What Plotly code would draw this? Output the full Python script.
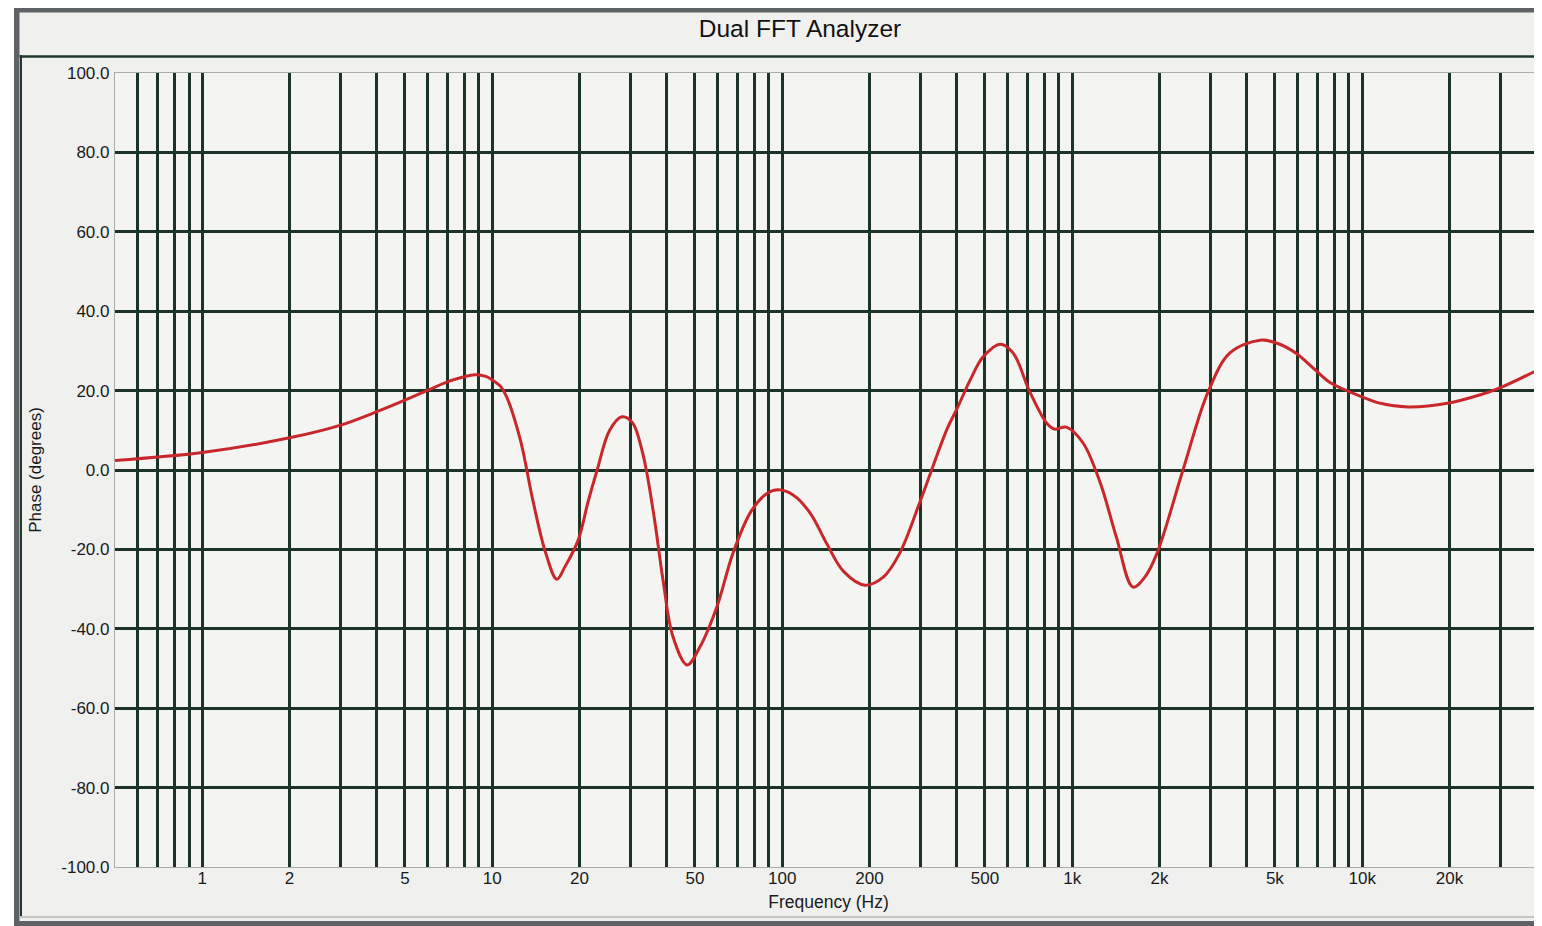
import math
import plotly.graph_objects as go

# ---------------- data ----------------
freq_hz = [0.5, 1.0, 2.0, 3.0, 4.0, 5.0, 6.0, 7.0, 8.0, 8.7, 9.5, 10.0, 10.7, 11.2,
           12.5, 13.8, 15.3, 16.7, 17.8, 19.8, 21.4, 23.0, 25.4, 28.0, 30.4, 33.0,
           36.0, 38.8, 42.0, 47.0, 52.0, 59.5, 67.6, 77.8, 88.6, 97.0, 109.0, 125.0,
           142.0, 163.0, 193.0, 223.0, 254.0, 300.0, 370.0, 401.0, 445.0, 493.0,
           565.0, 625.0, 715.0, 817.0, 870.0, 955.0, 1090.0, 1250.0, 1420.0, 1620.0,
           1780.0, 1960.0, 2410.0, 2940.0, 3500.0, 4450.0, 5060.0, 5900.0, 6890.0,
           7800.0, 10000.0, 11400.0, 14400.0, 19900.0, 25400.0, 30300.0, 41600.0]
phase_deg = [2.4, 4.4, 8.1, 11.3, 14.7, 17.6, 20.1, 22.2, 23.5, 24.0, 23.6, 22.7, 21.0, 18.5,
             7.6, -7.6, -21.0, -27.5, -24.4, -17.6, -8.0, 0.0, 10.0, 13.4, 12.0, 4.3,
             -10.9, -27.7, -42.0, -49.1, -44.6, -34.5, -21.0, -10.6, -5.9, -5.0, -6.3, -10.9,
             -18.4, -25.6, -29.0, -27.0, -21.0, -7.6, 10.3, 15.5, 22.7, 28.5,
             31.7, 29.5, 19.6, 11.8, 10.3, 10.8, 6.8, -3.3, -16.9, -29.5,
             -27.0, -21.0, 0.0, 19.6, 29.5, 32.7, 32.0, 29.5, 25.2,
             21.9, 18.4, 16.9, 15.9, 16.9, 18.9, 20.9, 25.7]

x_tick_vals = [1, 2, 5, 10, 20, 50, 100, 200, 500, 1000, 2000, 5000, 10000, 20000]
x_tick_text = ["1", "2", "5", "10", "20", "50", "100", "200", "500", "1k", "2k", "5k", "10k", "20k"]
y_tick_vals = [-100, -80, -60, -40, -20, 0, 20, 40, 60, 80, 100]
y_tick_text = ["-100.0", "-80.0", "-60.0", "-40.0", "-20.0", "0.0", "20.0", "40.0", "60.0", "80.0", "100.0"]

x_min_hz, x_max_hz = 0.5, 41700
# ---------------------------------------

x_grid = [m * 10 ** e for e in range(-1, 5) for m in range(1, 10)]
x_grid = [v for v in x_grid if x_min_hz < v < x_max_hz]
y_grid = [v for v in y_tick_vals if -100 < v < 100]

# the page places the figure 8px in from the top-left corner of the window
OFF = 8
W, H = 1542 - OFF, 926 - OFF
L, R, T = 115 - OFF, 0, 73 - OFF
B = H - (867 - OFF)
PW, PH = W - L - R, H - T - B

def px(x):  # x in window pixels -> paper coords
    return (x - OFF - L) / PW

def py(y):  # y in window pixels -> paper coords
    return (H - B - (y - OFF)) / PH

GRID = "#1c3328"
FRAME = "#5f6264"
INNER = "#f0f1ef"
FONT = "Liberation Sans, Arial, Helvetica, sans-serif"

fig = go.Figure()
fig.add_trace(go.Scatter(
    x=freq_hz, y=phase_deg, mode="lines",
    line=dict(color="#c9282b", width=3, shape="spline", smoothing=1.0),
    hoverinfo="x+y", showlegend=False,
))

shapes = [
    # white outside frame (left strip)
    dict(type="rect", xref="paper", yref="paper", x0=px(OFF), x1=px(14), y0=py(OFF), y1=py(926),
         fillcolor="white", line_width=0, layer="below"),
    # gray frame bars
    dict(type="rect", xref="paper", yref="paper", x0=px(14), x1=px(1542), y0=py(OFF), y1=py(12.5),
         fillcolor=FRAME, line_width=0, layer="below"),
    dict(type="rect", xref="paper", yref="paper", x0=px(14), x1=px(19.5), y0=py(OFF), y1=py(926),
         fillcolor=FRAME, line_width=0, layer="below"),
    dict(type="rect", xref="paper", yref="paper", x0=px(14), x1=px(1542), y0=py(921), y1=py(926),
         fillcolor=FRAME, line_width=0, layer="below"),
    # light line near bottom
    dict(type="line", xref="paper", yref="paper", x0=px(20), x1=px(1542), y0=py(917), y1=py(917),
         line=dict(color="#b4b9b5", width=1.5), layer="below"),
    # title underline
    dict(type="line", xref="paper", yref="paper", x0=px(19.5), x1=px(1542), y0=py(56.5), y1=py(56.5),
         line=dict(color="#1e3a2c", width=2.5), layer="below"),
    # inner left dark edge
    dict(type="line", xref="paper", yref="paper", x0=px(21), x1=px(21), y0=py(55), y1=py(916),
         line=dict(color="#1e3a2c", width=2), layer="below"),
]

fig.update_layout(
    width=W, height=H,
    margin=dict(l=L, r=R, t=T, b=B, pad=0),
    paper_bgcolor=INNER,
    plot_bgcolor="#f4f5f3",
    shapes=shapes,
    title=dict(text="Dual FFT Analyzer", x=(800 - OFF) / W, xref="container", xanchor="center",
               y=1 - (28 - OFF) / H, yref="container", yanchor="middle",
               font=dict(family=FONT, size=24.5, color="#111111")),
    font=dict(family=FONT, color="#1a1a1a"),
    showlegend=False,
)

fig.update_xaxes(
    type="log",
    range=[math.log10(x_min_hz), math.log10(x_max_hz)],
    tickmode="array", tickvals=x_tick_vals, ticktext=x_tick_text,
    tickfont=dict(size=17, color="#1a1a1a"),
    ticks="", ticklabelstandoff=-5,
    showgrid=False, zeroline=False,
    showline=True, linecolor="#a9aeaa", linewidth=1.2, mirror=True,
    minor=dict(tickmode="array", tickvals=x_grid, showgrid=True,
               gridcolor=GRID, gridwidth=2.5, ticks=""),
    title=dict(text="Frequency (Hz)", font=dict(size=17.5, color="#1a1a1a"), standoff=9),
    automargin=False,
)
fig.update_yaxes(
    range=[-100, 100],
    tickmode="array", tickvals=y_tick_vals, ticktext=y_tick_text,
    tickfont=dict(size=17, color="#1a1a1a"),
    ticks="outside", ticklen=1, tickcolor="rgba(0,0,0,0)",
    showgrid=False, zeroline=False,
    showline=True, linecolor="#a9aeaa", linewidth=1.2, mirror=True,
    minor=dict(tickmode="array", tickvals=y_grid, showgrid=True,
               gridcolor=GRID, gridwidth=2.5, ticks=""),
    title=dict(text="Phase (degrees)", font=dict(size=17, color="#1a1a1a"), standoff=15),
    automargin=False,
)

fig.write_html("out.html")
